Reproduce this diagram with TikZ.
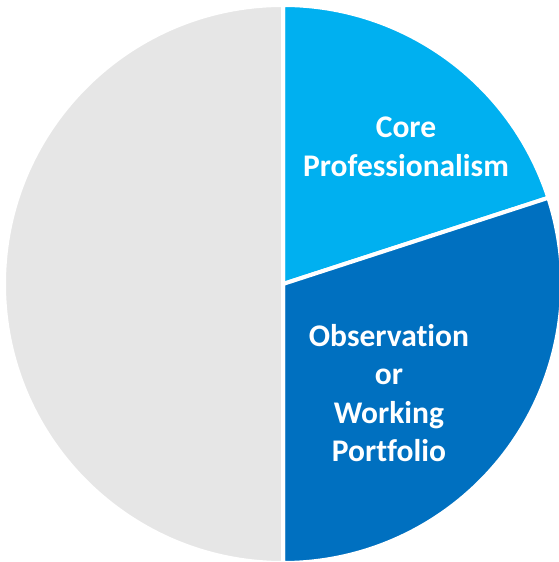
\documentclass[tikz,border=0pt]{standalone}
\usepackage{fontspec}
\setmainfont[Ligatures=NoCommon]{Carlito}
\usepackage{tikz}
\usetikzlibrary{positioning}
\definecolor{coreblue}{HTML}{00B0F0}
\definecolor{obsblue}{HTML}{0070C0}
\definecolor{restgray}{HTML}{E6E6E6}
\tikzset{%
	slice/.style={
		draw=white,
		line width=4pt,
		line join=miter
	},
	slice-label/.style={
		text=white,
		align=center,
		font=\bfseries\fontsize{31.5}{38.5}\selectfont
	},
}
\begin{document}
\begin{tikzpicture}[x=1pt, y=1pt]
\useasboundingbox (0,0) rectangle (558,562);
\coordinate (centre) at (283,278);

% slices
\foreach \a/\b/\c in {90/18/coreblue, 18/-90/obsblue, -90/-270/restgray}
	\filldraw[slice, fill=\c] (centre) -- ++(\a:279) arc[start angle=\a, end angle=\b, radius=279] -- cycle;

% slice labels
\node[slice-label] (core) at (406,415) {Core\\Professionalism};
\node[slice-label] (obs) at (389,169) {Observation\\or\\Working\\Portfolio};

\end{tikzpicture}
\end{document}
